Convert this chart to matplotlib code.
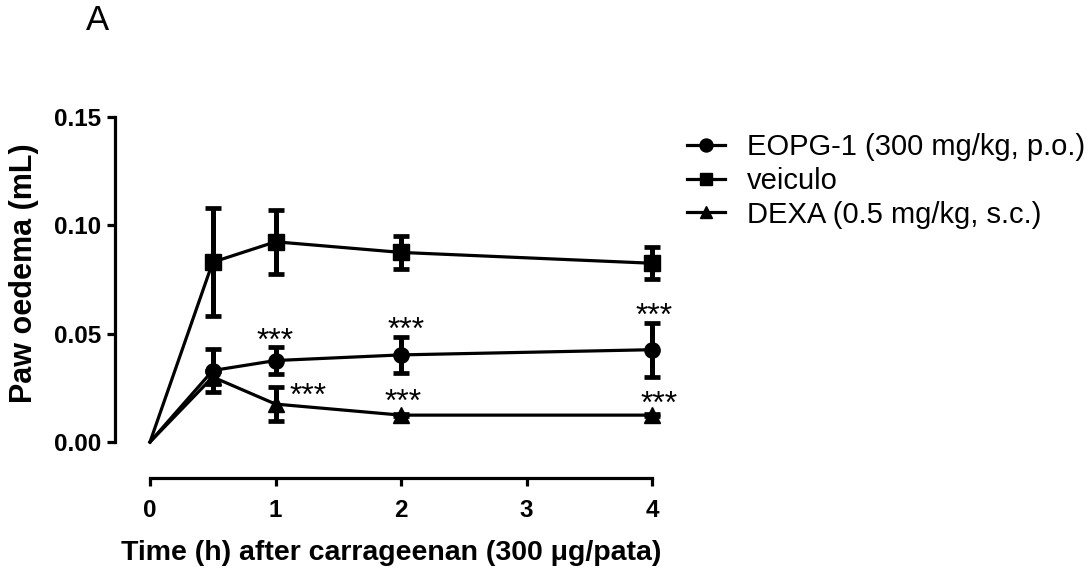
import matplotlib
matplotlib.use("Agg")
import matplotlib.pyplot as plt
from matplotlib.ticker import FormatStrFormatter

plt.rcParams["font.family"] = ["Liberation Sans", "DejaVu Sans"]

# Data (mean +/- SEM)
time_h = [0, 0.5, 1, 2, 4]

eopg_mean = [0.0, 0.033, 0.0376, 0.0402, 0.0426]
eopg_sem = [0.0, 0.010, 0.0064, 0.0084, 0.0125]

veiculo_mean = [0.0, 0.083, 0.0924, 0.0875, 0.0825]
veiculo_sem = [0.0, 0.025, 0.0147, 0.0075, 0.0075]

dexa_mean = [0.0, 0.030, 0.0175, 0.0124, 0.0124]
dexa_sem = [0.0, 0.003, 0.008, 0.0005, 0.0005]

# significance marks (x, y of the visual centre)
star_x = [1.0, 1.26, 2.04, 2.02, 4.02, 4.06]
star_y = [0.0508, 0.0254, 0.0558, 0.0226, 0.0623, 0.0217]

labels = ["EOPG-1 (300 mg/kg, p.o.)", "veiculo", "DEXA (0.5 mg/kg, s.c.)"]
x_ticks = [0, 1, 2, 3, 4]
y_ticks = [0.00, 0.05, 0.10, 0.15]

W, H = 1092, 570
fig = plt.figure(figsize=(W / 100, H / 100), dpi=100)
ax = fig.add_axes([150 / W, (H - 442) / H, 502 / W, 325 / H])

series = [
    (eopg_mean, eopg_sem, "o"),
    (veiculo_mean, veiculo_sem, "s"),
    (dexa_mean, dexa_sem, "^"),
]
handles = []
for (mean, sem, mk), lab in zip(series, labels):
    ax.errorbar(time_h[1:], mean[1:], yerr=sem[1:], fmt="none", ecolor="black",
                elinewidth=3.6, capsize=5.5, capthick=3.4, clip_on=False, zorder=3)
    line, = ax.plot(time_h, mean, color="black", lw=2.3, marker=mk, markersize=11,
                    markevery=slice(1, None), clip_on=False, zorder=4, label=lab)
    handles.append(line)

for sx, sy in zip(star_x, star_y):
    ax.annotate("***", (sx, sy), xytext=(0, -13), textcoords="offset points",
                ha="center", va="baseline", fontsize=23, annotation_clip=False)

ax.set_xlim(0, 4)
ax.set_ylim(0, 0.15)
ax.set_xticks(x_ticks)
ax.set_yticks(y_ticks)
ax.yaxis.set_major_formatter(FormatStrFormatter("%.2f"))

for side in ["top", "right"]:
    ax.spines[side].set_visible(False)
ax.spines["left"].set_position(("outward", 25))
ax.spines["bottom"].set_position(("outward", 26))
for side in ["left", "bottom"]:
    ax.spines[side].set_linewidth(2.3)

ax.tick_params(axis="both", direction="out", length=6, width=2.3)
ax.tick_params(axis="x", pad=9)
ax.tick_params(axis="y", pad=4)
for t in ax.get_xticklabels() + ax.get_yticklabels():
    t.set_fontsize(17.5)
    t.set_fontweight("bold")

ax.set_xlabel("Time (h) after carrageenan (300 \u03bcg/pata)", fontsize=20.5, fontweight="bold")
ax.xaxis.set_label_coords(0.48, -0.30)
ax.set_ylabel("Paw oedema (mL)", fontsize=22, fontweight="bold")
ax.yaxis.set_label_coords(-0.222, 0.52)

leg = ax.legend(handles=handles, loc="upper left", bbox_to_anchor=(687 / W, 1 - 133 / H),
                bbox_transform=fig.transFigure, frameon=False, fontsize=21,
                borderpad=0, borderaxespad=0, handlelength=1.3, handletextpad=0.75,
                labelspacing=0.2, markerscale=0.85)

fig.text(97 / W, 1 - 21 / H, "A", fontsize=25, ha="center", va="center")

fig.savefig("out.png", dpi=100)
